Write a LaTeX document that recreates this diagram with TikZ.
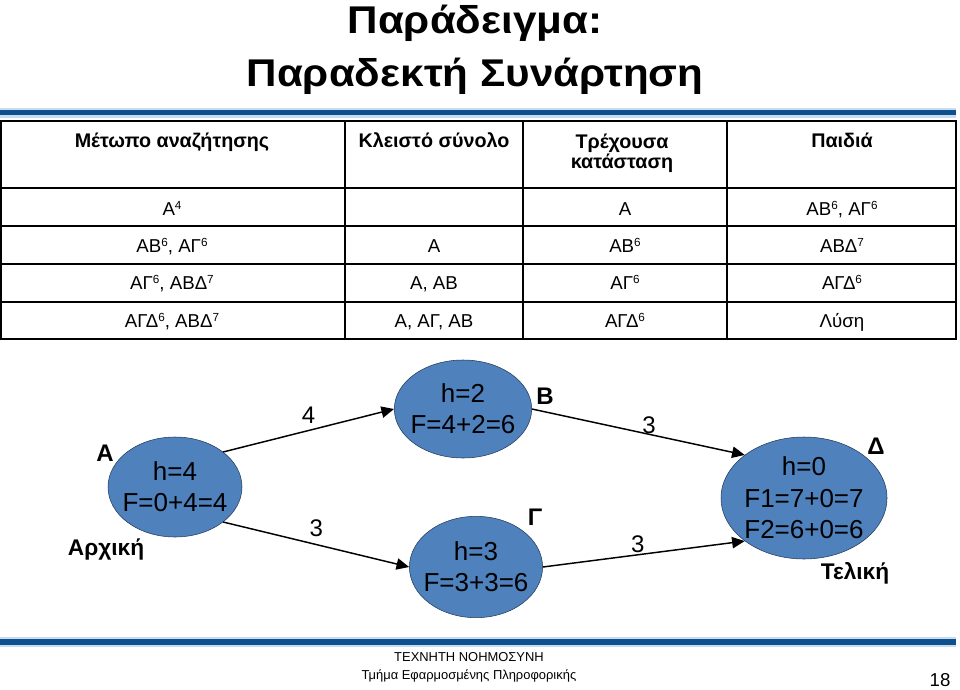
\documentclass[tikz,border=0pt]{standalone}
\usepackage{fontspec}
\setmainfont{Liberation Sans}
\newfontfamily\titlefont[FakeStretch=1.09]{Liberation Sans}
\usepackage{xcolor}
\usepackage{tikz}
\usetikzlibrary{positioning, arrows.meta, shapes.geometric}
\definecolor{barblue}{RGB}{14,80,142}
\definecolor{barlight}{RGB}{200,220,240}
\definecolor{stateblue}{RGB}{79,129,189}
\definecolor{stateline}{RGB}{36,58,88}
\newcommand{\pw}[1]{\raisebox{3.8pt}{\fontsize{8.8}{9}\selectfont #1}}

\begin{document}
\begin{tikzpicture}[
    x=0.75pt, y=-0.75pt,
    every node/.style={inner sep=0pt},
    heading/.style={
        font=\titlefont\fontsize{29}{39.75}\selectfont\bfseries,
        align=center,
        anchor=north
    },
    head/.style={
        font=\fontsize{14.8}{15.5}\selectfont\bfseries,
        align=center,
        anchor=base
    },
    cell/.style={font=\fontsize{14}{16}\selectfont, anchor=base},
    state/.style={
        ellipse,
        draw=stateline,
        fill=stateblue,
        thin,
        inner sep=-4pt,
        align=center,
        font=\fontsize{19.5}{23.5}\selectfont
    },
    tag/.style={font=\fontsize{18}{20}\selectfont\bfseries},
    role/.style={font=\fontsize{17}{20}\selectfont\bfseries},
    cost/.style={font=\fontsize{18}{20}\selectfont},
    arrow/.style={-{Triangle[length=9.5pt, width=8.5pt]}, line width=1.1pt},
    bar/.style={line width=3.8pt, draw=barblue},
    tableframe/.style={line width=2.2pt},
    tableline/.style={line width=1.1pt}
]
\useasboundingbox (0,0) rectangle (960,689);

% title
\node[heading] (title) at (475,5) {Παράδειγμα:\\Παραδεκτή Συνάρτηση};

% bars
\fill[barlight] (0,107.5) rectangle (956,117.5);
\draw[bar] (0,112.5) -- (956,112.5);
\fill[barlight] (0,637) rectangle (956,647);
\draw[bar] (0,642) -- (956,642);

% table
\foreach \y in {188,226,264,302}
    \draw[tableline] (1,\y) -- (956,\y);
\foreach \x in {345,523,727}
    \draw[tableline] (\x,121) -- (\x,339);
\draw[tableframe] (1,121) rectangle (956,339);

\node[head] (hfront) at (172,147) {Μέτωπο αναζήτησης};
\node[head] (hclosed) at (434,147) {Κλειστό σύνολο};
\node[head, anchor=north] (hcurrent) at (622,133.5) {Τρέχουσα\\κατάσταση};
\node[head] (hkids) at (842,147) {Παιδιά};

\node[cell] (front1) at (172,215) {Α\pw{4}};
\node[cell] (cur1) at (625,215) {Α};
\node[cell] (kids1) at (842,215) {ΑΒ\pw{6}, ΑΓ\pw{6}};

\node[cell] (front2) at (172,252) {ΑΒ\pw{6}, ΑΓ\pw{6}};
\node[cell] (closed2) at (434,252) {Α};
\node[cell] (cur2) at (625,252) {ΑΒ\pw{6}};
\node[cell] (kids2) at (842,252) {ΑΒΔ\pw{7}};

\node[cell] (front3) at (172,289) {ΑΓ\pw{6}, ΑΒΔ\pw{7}};
\node[cell] (closed3) at (434,289) {Α, ΑΒ};
\node[cell] (cur3) at (625,289) {ΑΓ\pw{6}};
\node[cell] (kids3) at (842,289) {ΑΓΔ\pw{6}};

\node[cell] (front4) at (172,327) {ΑΓΔ\pw{6}, ΑΒΔ\pw{7}};
\node[cell] (closed4) at (434,327) {Α, ΑΓ, ΑΒ};
\node[cell] (cur4) at (625,327) {ΑΓΔ\pw{6}};
\node[cell] (kids4) at (842,327) {Λύση};

% search graph
\node[state, minimum width=100.5pt, minimum height=75pt] (A) at (175,487) {h=4\\F=0+4=4};
\node[state, minimum width=103pt, minimum height=73.5pt] (B) at (463,409) {h=2\\F=4+2=6};
\node[state, minimum width=96pt, minimum height=76pt] (G) at (476,567) {h=3\\F=3+3=6};
\node[state, minimum width=124.5pt, minimum height=91.5pt] (D) at (804,498) {h=0\\F1=7+0=7\\F2=6+0=6};

\node[tag] (tagA) at (105,453) {Α};
\node[tag] (tagB) at (545,396) {Β};
\node[tag] (tagG) at (535,517) {Γ};
\node[tag] (tagD) at (876,446) {Δ};
\node[role] (start) at (106,549) {Αρχική};
\node[role] (goal) at (855,573) {Τελική};

\draw[arrow] (A.36) -- node[cost, above=5pt] (wAB) {4} (B.west);
\draw[arrow] (A.-36) -- node[cost, above=5pt] (wAG) {3} (G.west);
\draw[arrow] (B.east) -- node[cost, pos=0.55, above=0pt] (wBD) {3} (D.144);
\draw[arrow] (G.east) -- node[cost, pos=0.47, above=1pt] (wGD) {3} (D.216);

% footer
\node[font=\fontsize{9.7}{13.5}\selectfont, align=center] (dept) at (469,667) {ΤΕΧΝΗΤΗ ΝΟΗΜΟΣΥΝΗ\\Τμήμα Εφαρμοσμένης Πληροφορικής};
\node[font=\fontsize{14}{16}\selectfont] (page) at (940,680) {18};

\end{tikzpicture}
\end{document}
